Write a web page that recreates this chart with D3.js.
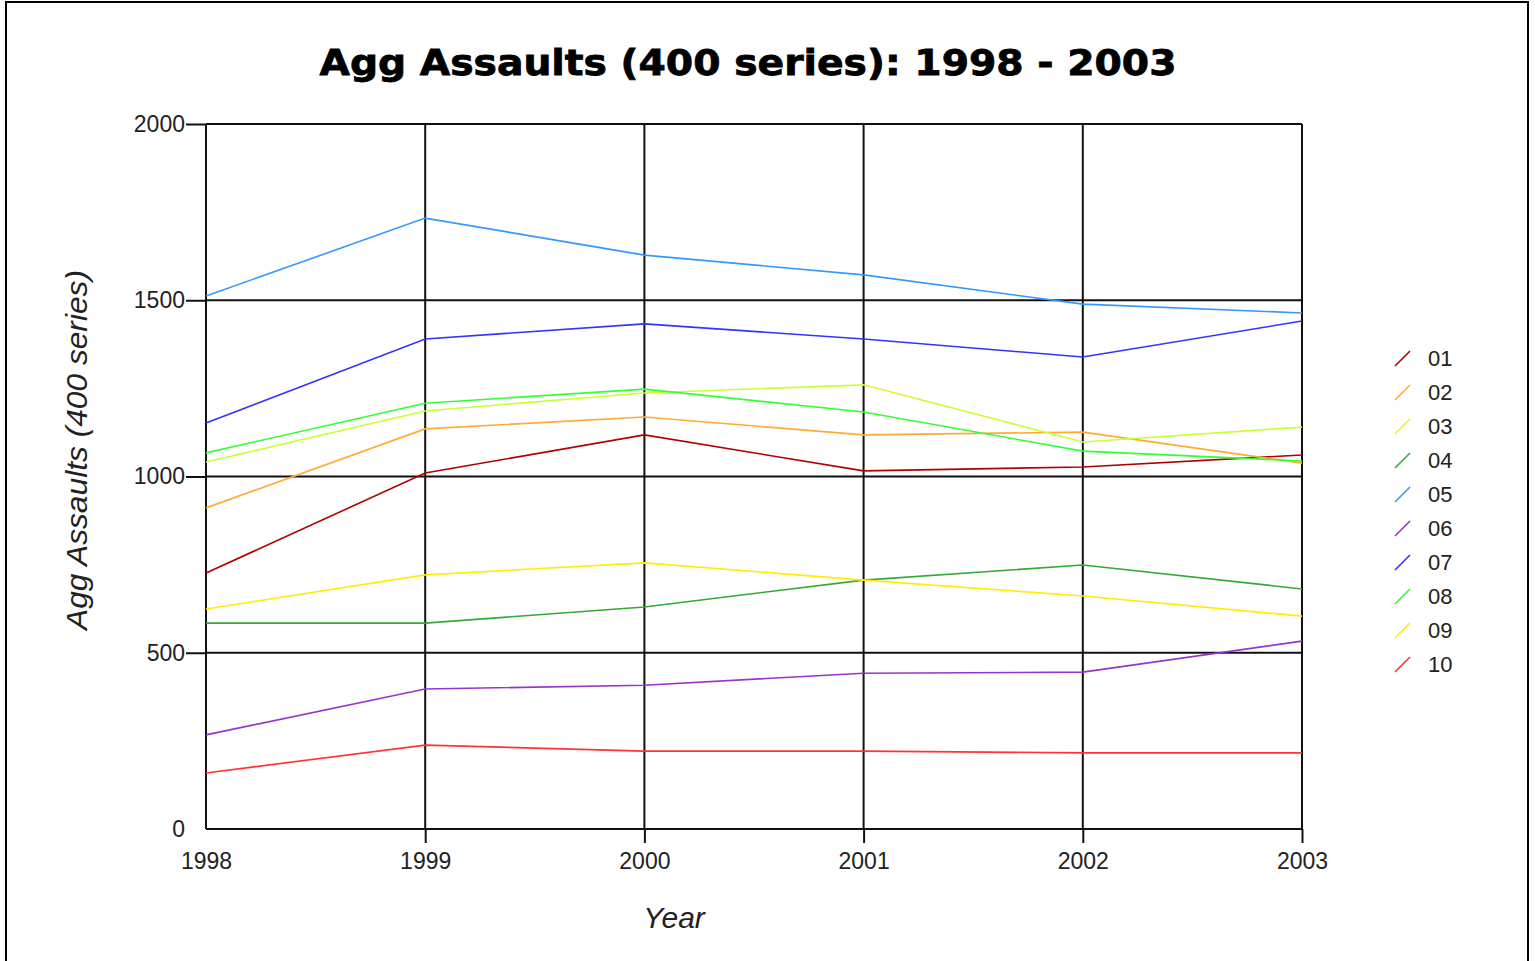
<!DOCTYPE html>
<html>
<head>
<meta charset="utf-8">
<script src="https://cdn.jsdelivr.net/npm/d3@7"></script>
<style>
  body { margin: 0; background: #fff; }
  svg { display: block; }
  .tick text { font-family: "Liberation Sans", Arial, sans-serif; font-size: 23px; fill: #222; }
</style>
</head>
<body>
<div id="chart"></div>
<script>
// chart data
var years = [1998, 1999, 2000, 2001, 2002, 2003];
var seriesNames = ["01", "02", "03", "04", "05", "06", "07", "08", "09", "10"];
var seriesColors = ["#b00000", "#ffaa33", "#ccff33", "#33aa33", "#3399ff",
                    "#9933cc", "#3333ff", "#33ff33", "#ffee00", "#ff3333"];
var s01 = [726, 1010, 1118, 1016, 1027, 1061];
var s02 = [911, 1135, 1169, 1118, 1126, 1038];
var s03 = [1041, 1186, 1237, 1260, 1098, 1140];
var s04 = [584, 584, 630, 706, 749, 681];
var s05 = [1512, 1733, 1628, 1572, 1489, 1464];
var s06 = [267, 397, 408, 442, 445, 533];
var s07 = [1152, 1390, 1433, 1390, 1339, 1441];
var s08 = [1067, 1208, 1248, 1183, 1072, 1044];
var s09 = [624, 721, 755, 706, 661, 604];
var s10 = [159, 238, 221, 221, 216, 216];
var yTicks = [0, 500, 1000, 1500, 2000];

var allSeries = [s01, s02, s03, s04, s05, s06, s07, s08, s09, s10];

var svgWidth = 1535, svgHeight = 961;
var margin = { top: 124, left: 206 };
var chartWidth = 1096, chartHeight = 705;

var svg = d3.select("#chart").append("svg")
  .attr("width", svgWidth)
  .attr("height", svgHeight);

// outer frame
svg.append("rect")
  .attr("x", 6).attr("y", 2)
  .attr("width", 1522).attr("height", 980)
  .attr("fill", "none")
  .attr("stroke", "#000")
  .attr("stroke-width", 2);

// title
svg.append("text")
  .attr("x", 748).attr("y", 75)
  .attr("text-anchor", "middle")
  .attr("font-family", "DejaVu Sans, Verdana, sans-serif")
  .attr("font-weight", "bold")
  .attr("font-size", 36)
  .attr("textLength", 857)
  .attr("lengthAdjust", "spacingAndGlyphs")
  .style("stroke", "#000").style("stroke-width", 0.8)
  .text("Agg Assaults (400 series): 1998 - 2003");

var g = svg.append("g")
  .attr("transform", `translate(${margin.left}, ${margin.top})`);

var x = d3.scaleLinear().domain([1998, 2003]).range([0, chartWidth]);
var y = d3.scaleLinear().domain([0, 2000]).range([chartHeight, 0]);

// grid lines
g.selectAll(".hgrid").data(yTicks).enter().append("line")
  .attr("x1", 0).attr("x2", chartWidth)
  .attr("y1", d => y(d)).attr("y2", d => y(d))
  .attr("stroke", "#111").attr("stroke-width", 2);

g.selectAll(".vgrid").data(years).enter().append("line")
  .attr("x1", d => x(d)).attr("x2", d => x(d))
  .attr("y1", 0).attr("y2", chartHeight)
  .attr("stroke", "#111").attr("stroke-width", 2);

// axes
var leftAxis = d3.axisLeft(y).tickValues(yTicks).tickSize(20).tickPadding(1).tickFormat(d3.format("d"));
var bottomAxis = d3.axisBottom(x).tickValues(years).tickSize(14).tickPadding(10).tickFormat(d3.format("d"));

var ya = g.append("g").call(leftAxis);
var xa = g.append("g").attr("transform", `translate(0, ${chartHeight})`).call(bottomAxis);
[ya, xa].forEach(function(a) {
  a.select(".domain").remove();
  a.selectAll(".tick line").attr("stroke", "#111").attr("stroke-width", 2);
});
ya.selectAll(".tick").filter(d => d === 0).select("line").remove();
xa.selectAll(".tick").filter(d => d === 1998).select("line").remove();

// series lines
var line = d3.line()
  .x((d, i) => x(years[i]))
  .y(d => y(d));

g.selectAll(".series").data(allSeries).enter().append("path")
  .attr("class", "series")
  .attr("d", line)
  .attr("fill", "none")
  .attr("stroke", (d, i) => seriesColors[i])
  .attr("stroke-width", 1.6);

// axis titles
svg.append("text")
  .attr("x", 674).attr("y", 928)
  .attr("text-anchor", "middle")
  .attr("font-family", "Liberation Sans, Arial, sans-serif")
  .attr("font-style", "italic")
  .attr("font-size", 30)
  .attr("fill", "#222")
  .text("Year");

svg.append("text")
  .attr("transform", "translate(87, 450) rotate(-90)")
  .attr("text-anchor", "middle")
  .attr("font-family", "Liberation Sans, Arial, sans-serif")
  .attr("font-style", "italic")
  .attr("font-size", 30)
  .attr("textLength", 360)
  .attr("lengthAdjust", "spacingAndGlyphs")
  .attr("fill", "#222")
  .text("Agg Assaults (400 series)");

// legend
var legend = svg.append("g").attr("transform", "translate(1395, 358)");
var items = legend.selectAll(".item").data(seriesNames).enter().append("g")
  .attr("transform", (d, i) => `translate(0, ${i * 34})`);
items.append("line")
  .attr("x1", 0).attr("y1", 8).attr("x2", 15).attr("y2", -7)
  .attr("stroke", (d, i) => seriesColors[i])
  .attr("stroke-width", 1.6);
items.append("text")
  .attr("x", 33).attr("y", 8)
  .attr("font-family", "Liberation Sans, Arial, sans-serif")
  .attr("font-size", 22)
  .attr("fill", "#222")
  .text(d => d);
</script>
</body>
</html>
